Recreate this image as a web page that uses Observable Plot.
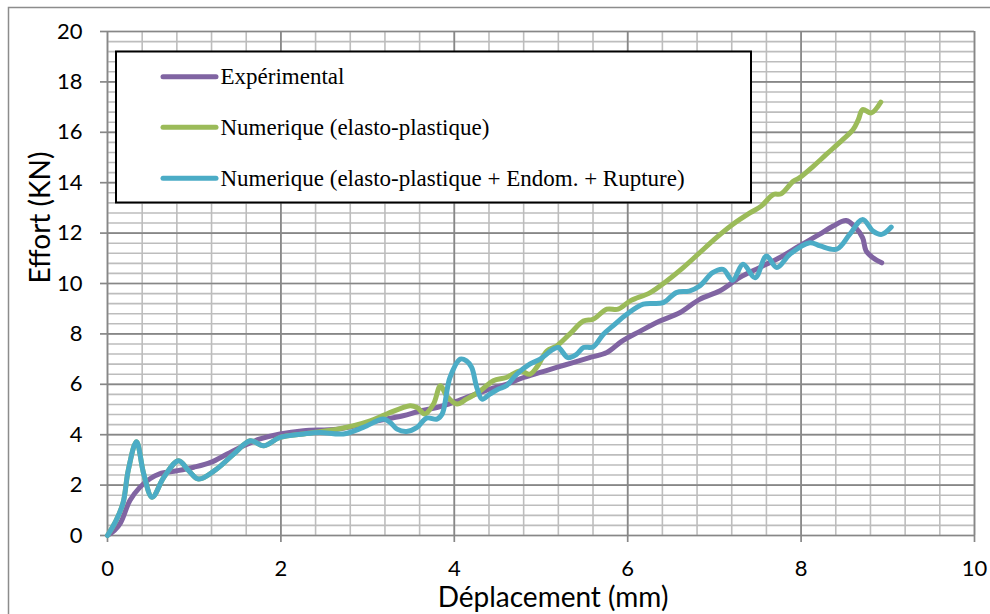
<!DOCTYPE html>
<html>
<head>
<meta charset="utf-8">
<script src="https://cdn.jsdelivr.net/npm/d3@7"></script>
<script src="https://cdn.jsdelivr.net/npm/@observablehq/plot@0.6"></script>
<style>
  html, body { margin: 0; padding: 0; background: #fff; }
  #chart { width: 990px; height: 614px; }
</style>
</head>
<body>
<div id="chart"></div>
<script>
// ---- data ----
const seriesNames = [
  "Expérimental",
  "Numerique (elasto-plastique)",
  "Numerique (elasto-plastique + Endom. + Rupture)"
];
const seriesColors = ["#8064A2", "#9BBB59", "#4BACC6"];

const xTicks = [0, 2, 4, 6, 8, 10];
const yTicks = [0, 2, 4, 6, 8, 10, 12, 14, 16, 18, 20];

const expX = [0, 0.08, 0.15, 0.26, 0.37, 0.49, 0.6, 0.8, 0.995, 1.19, 1.38, 1.57, 1.76, 1.99, 2.26, 2.65, 3.03, 3.22, 3.41, 3.61, 3.80, 3.99, 4.2, 4.41, 4.60, 4.80, 4.99, 5.18, 5.37, 5.56, 5.76, 5.93, 6.14, 6.37, 6.60, 6.83, 7.06, 7.29, 7.52, 7.75, 7.98, 8.21, 8.37, 8.52, 8.63, 8.71, 8.75, 8.83, 8.93];
const expY = [0, 0.2, 0.5, 1.4, 1.9, 2.25, 2.45, 2.57, 2.71, 2.90, 3.23, 3.56, 3.83, 4.03, 4.16, 4.22, 4.49, 4.62, 4.75, 4.95, 5.08, 5.28, 5.55, 5.81, 6.0, 6.27, 6.47, 6.67, 6.86, 7.06, 7.26, 7.7, 8.1, 8.51, 8.84, 9.37, 9.70, 10.23, 10.63, 11.02, 11.49, 11.95, 12.28, 12.50, 12.21, 11.81, 11.29, 11.02, 10.82];

const epX = [0, 0.1, 0.18, 0.24, 0.334, 0.418, 0.515, 0.65, 0.82, 0.937, 1.05, 1.26, 1.455, 1.647, 1.80, 1.99, 2.26, 2.45, 2.65, 2.84, 3.03, 3.22, 3.49, 3.57, 3.66, 3.76, 3.84, 3.91, 4.03, 4.14, 4.30, 4.45, 4.60, 4.76, 4.87, 4.95, 5.07, 5.18, 5.33, 5.49, 5.60, 5.76, 5.89, 6.03, 6.26, 6.45, 6.64, 6.83, 7.02, 7.21, 7.41, 7.54, 7.68, 7.77, 7.91, 7.98, 8.14, 8.29, 8.48, 8.60, 8.66, 8.71, 8.81, 8.92];
const epY = [0, 0.6, 1.3, 2.6, 3.72, 2.44, 1.52, 2.31, 2.97, 2.57, 2.24, 2.64, 3.23, 3.76, 3.56, 3.89, 4.03, 4.12, 4.22, 4.36, 4.55, 4.82, 5.15, 5.08, 4.82, 5.22, 5.94, 5.55, 5.22, 5.41, 5.74, 6.14, 6.27, 6.53, 6.40, 6.67, 7.33, 7.52, 7.99, 8.51, 8.58, 8.98, 8.98, 9.31, 9.64, 10.10, 10.63, 11.22, 11.81, 12.34, 12.80, 13.07, 13.53, 13.56, 14.06, 14.19, 14.65, 15.12, 15.71, 16.11, 16.5, 16.9, 16.77, 17.20];

const eprX = [0, 0.1, 0.18, 0.24, 0.334, 0.418, 0.515, 0.65, 0.82, 0.937, 1.05, 1.26, 1.455, 1.647, 1.80, 1.99, 2.26, 2.45, 2.72, 2.95, 3.18, 3.26, 3.34, 3.45, 3.57, 3.68, 3.80, 3.86, 3.95, 4.07, 4.14, 4.20, 4.26, 4.32, 4.41, 4.51, 4.60, 4.72, 4.87, 4.99, 5.14, 5.20, 5.31, 5.41, 5.49, 5.60, 5.72, 5.83, 5.99, 6.18, 6.41, 6.56, 6.71, 6.83, 6.98, 7.10, 7.21, 7.33, 7.47, 7.60, 7.72, 7.87, 8.10, 8.22, 8.41, 8.56, 8.71, 8.83, 8.93, 9.04];
const eprY = [0, 0.6, 1.3, 2.6, 3.72, 2.44, 1.52, 2.31, 2.97, 2.57, 2.24, 2.64, 3.23, 3.76, 3.56, 3.89, 4.03, 4.09, 4.03, 4.29, 4.62, 4.49, 4.22, 4.13, 4.29, 4.66, 4.62, 4.82, 6.27, 7.0, 6.93, 6.67, 5.87, 5.41, 5.61, 5.81, 5.94, 6.40, 6.80, 7.0, 7.39, 7.46, 7.06, 7.19, 7.46, 7.48, 7.99, 8.32, 8.78, 9.18, 9.24, 9.64, 9.70, 9.90, 10.43, 10.56, 10.13, 10.76, 10.23, 11.09, 10.63, 11.16, 11.62, 11.49, 11.36, 11.95, 12.54, 12.08, 11.95, 12.24];

// ---- build table ----
const toRows = (xs, ys, s) => xs.map((x, i) => ({x, y: ys[i], s}));
const rows = [
  ...toRows(expX, expY, seriesNames[0]),
  ...toRows(epX, epY, seriesNames[1]),
  ...toRows(eprX, eprY, seriesNames[2])
];

const minorX = d3.range(0, 10.001, 0.4).map(v => +v.toFixed(2));
const minorY = d3.range(0, 20.001, 0.4).map(v => +v.toFixed(2));

const majorColor = "#878787";
const minorColor = "#bdbdbd";

const chart = Plot.plot({
  width: 990,
  height: 614,
  marginLeft: 107,
  marginRight: 16,
  marginTop: 31,
  marginBottom: 79,
  x: {domain: [0, 10]},
  y: {domain: [0, 20]},
  color: {domain: seriesNames, range: seriesColors},
  style: {fontFamily: "Lato, 'Open Sans', sans-serif", fontSize: "22px", background: "#fff", color: "#000"},
  marks: [
    Plot.ruleX(minorX, {stroke: minorColor, strokeWidth: 1.6}),
    Plot.ruleY(minorY, {stroke: minorColor, strokeWidth: 1.6}),
    Plot.ruleX(xTicks, {stroke: majorColor, strokeWidth: 1.7}),
    Plot.ruleY(yTicks, {stroke: majorColor, strokeWidth: 1.7}),
    Plot.axisX({ticks: xTicks, tickSize: 7, tickPadding: 18, stroke: majorColor, strokeWidth: 1.7, fill: "#000", label: null, tickFormat: d => String(d), fontSize: 22}),
    Plot.axisY({ticks: yTicks, tickSize: 7, tickPadding: 18, stroke: majorColor, strokeWidth: 1.7, fill: "#000", label: null, tickFormat: d => String(d), fontSize: 22}),
    Plot.text(["Déplacement (mm)"], {frameAnchor: "bottom", dy: 71, dx: 12, fontSize: 28, fill: "#000"}),
    Plot.text(["Effort (KN)"], {frameAnchor: "left", dx: -66, rotate: -90, fontSize: 28, fill: "#000"}),
    Plot.line(rows, {x: "x", y: "y", z: "s", stroke: "s", strokeWidth: 5, curve: "catmull-rom", strokeLinejoin: "round", strokeLinecap: "round"})
  ]
});

document.getElementById("chart").appendChild(chart);

// ---- outer chart-area border & legend ----
const svg = d3.select(chart);
svg.append("path")
  .attr("d", "M8.5,614 L8.5,7.5 L990,7.5")
  .attr("fill", "none")
  .attr("stroke", "#8c8c8c")
  .attr("stroke-width", 1.5);

const lg = svg.append("g").attr("text-anchor", "start");
lg.append("rect")
  .attr("x", 116).attr("y", 51.5)
  .attr("width", 635).attr("height", 151)
  .attr("fill", "#fff").attr("stroke", "#000").attr("stroke-width", 2);
const rowY = [76.7, 127.3, 178.3];
seriesNames.forEach((name, i) => {
  lg.append("line")
    .attr("x1", 163).attr("x2", 216)
    .attr("y1", rowY[i]).attr("y2", rowY[i])
    .attr("stroke", seriesColors[i]).attr("stroke-width", 5)
    .attr("stroke-linecap", "round");
  lg.append("text")
    .attr("x", 220.5).attr("y", rowY[i] + 7.7)
    .attr("text-anchor", "start")
    .attr("font-family", "'Liberation Serif', 'Times New Roman', serif")
    .attr("font-size", 23)
    .attr("fill", "#000")
    .text(name);
});
</script>
</body>
</html>
